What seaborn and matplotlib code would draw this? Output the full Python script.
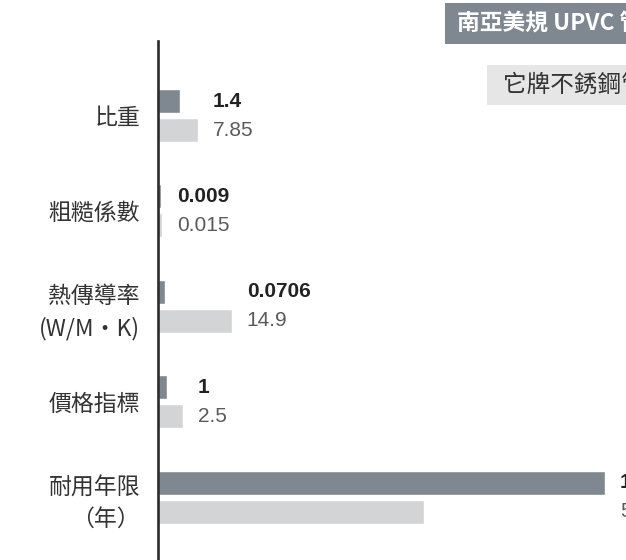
import matplotlib
matplotlib.use("Agg")
import matplotlib.pyplot as plt
import seaborn as sns
import pandas as pd
from matplotlib.patches import Rectangle

# ---- data ----
categories = ["比重", "粗糙係數", "熱傳導率\n(W/M・K)", "價格指標", "耐用年限\n（年）"]
series_names = ["南亞美規 UPVC 管", "它牌不銹鋼管"]
upvc_labels = ["1.4", "0.009", "0.0706", "1", "100"]
steel_labels = ["7.85", "0.015", "14.9", "2.5", "50"]
# visual bar index as drawn in the chart (longest bar = 100)
upvc_index = [4.92, 0.60, 1.50, 1.95, 100]
steel_index = [8.95, 0.83, 16.49, 5.59, 59.5]

dark = "#7f8890"
light = "#d3d4d6"

sns.set_theme(style="white")
plt.rcParams["font.family"] = ["Noto Sans CJK TC", "DejaVu Sans"]

df = pd.DataFrame({
    "category": categories * 2,
    "series": [series_names[0]] * len(categories) + [series_names[1]] * len(categories),
    "value": upvc_index + steel_index,
})

W, H = 626, 560
fig = plt.figure(figsize=(W / 100, H / 100), dpi=100)
px_per_unit = 4.47
ax_left = 158
ax_w = 700
ax = fig.add_axes([ax_left / W, 0, ax_w / W, 1 - 41 / H])

sns.barplot(data=df, y="category", x="value", hue="series", order=categories,
            hue_order=series_names, palette=[dark, light], orient="h",
            width=0.608, gap=0.172, saturation=1, legend=False, ax=ax)

ax.set_xlim(0, ax_w / px_per_unit)
ax.set_ylim(4.659, -0.781)
ax.set_xlabel("")
ax.set_ylabel("")
ax.set_xticks([])
for s in ["top", "right", "bottom"]:
    ax.spines[s].set_visible(False)
ax.spines["left"].set_color("#2b2b2b")
ax.spines["left"].set_linewidth(1.9)
ax.tick_params(axis="y", length=0, pad=13)
for t in ax.get_yticklabels():
    t.set_fontsize(16.5)
    t.set_color("#333333")
    t.set_linespacing(1.43)
    t.set_horizontalalignment("right")

off = 0.152
lab_off = 15 / px_per_unit
for i in range(len(categories)):
    x = max(upvc_index[i], steel_index[i]) + lab_off
    ax.text(x, i - off, upvc_labels[i], va="center", ha="left", fontsize=15,
            fontweight="bold", color="#222222", family=["Liberation Sans", "DejaVu Sans"])
    ax.text(x, i + off, steel_labels[i], va="center", ha="left", fontsize=15,
            color="#5a5a5a", family=["Liberation Sans", "DejaVu Sans"])

# legend boxes (top right, extending past the edge)
fig.patches.append(Rectangle((445 / W, 1 - 44 / H), 300 / W, 41 / H,
                             transform=fig.transFigure, facecolor=dark, edgecolor="none"))
fig.text(457 / W, 1 - 24 / H, series_names[0], color="white", fontsize=16.4,
         fontweight="bold", va="center", ha="left")
fig.patches.append(Rectangle((487 / W, 1 - 105 / H), 300 / W, 40 / H,
                             transform=fig.transFigure, facecolor="#e6e6e6", edgecolor="none"))
fig.text(503 / W, 1 - 85 / H, series_names[1], color="#333333", fontsize=17,
         va="center", ha="left")

fig.savefig("out.png", dpi=100)
